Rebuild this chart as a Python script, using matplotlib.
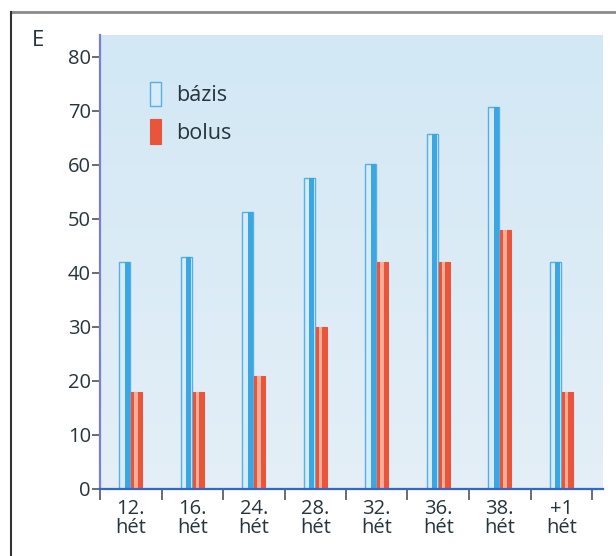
import matplotlib
matplotlib.use("Agg")
import matplotlib.pyplot as plt
import numpy as np
from matplotlib.lines import Line2D
from matplotlib.colors import LinearSegmentedColormap

categories = ["12.\nhét", "16.\nhét", "24.\nhét", "28.\nhét", "32.\nhét", "36.\nhét", "38.\nhét", "+1\nhét"]
bazis = [42, 43, 51.3, 57.5, 60.2, 65.8, 70.8, 42]
bolus = [18, 18, 21, 30, 42, 42, 48, 18]
yticks = [0, 10, 20, 30, 40, 50, 60, 70, 80]

plt.rcParams['font.family'] = ['Open Sans', 'DejaVu Sans']
txt = '#26353c'
fs = 14.5

fig = plt.figure(figsize=(6.16, 5.56), dpi=100)
ax = fig.add_axes([100/616, 1-489/556, 503/616, 454/556])

x = np.arange(len(categories))
w = 0.18
off = 0.095

# background gradient
grad = np.linspace(0, 1, 256).reshape(-1, 1)
cm = LinearSegmentedColormap.from_list('bg', ['#d2e8f5', '#e4eff7'])
ax.imshow(grad, extent=[0, 1, 0, 1], transform=ax.transAxes, cmap=cm, aspect='auto', zorder=0)

# bázis bars
b1 = ax.bar(x - off, bazis, width=w, color='#d6edf9', edgecolor='#5aaee2', linewidth=1.0, zorder=2, label='bázis')
ax.bar(x - off + w*0.22, bazis, width=w*0.45, color='#3aa6e2', linewidth=0, zorder=3)
# bolus bars
b2 = ax.bar(x + off, bolus, width=w, color='#e8553a', edgecolor='#e8553a', linewidth=0.8, zorder=2, label='bolus')
ax.bar(x + off - w*0.05, bolus, width=w*0.35, color='#f7ad96', linewidth=0, zorder=3)

ax.set_xlim(-0.5, -0.5 + 503/61.5)
ax.set_ylim(0, 454/5.4)

ax.set_yticks(yticks)
ax.set_yticklabels([str(v) for v in yticks], fontsize=fs, color=txt)
ax.tick_params(axis='y', length=6, width=1.2, color='#4a5560', pad=0.5)

ax.set_xticks(np.arange(len(categories) + 1) - 0.5)
ax.set_xticklabels([])
ax.tick_params(axis='x', which='major', length=8, width=1.2, color='#4a5560', direction='out')
ax.set_xticks(x, minor=True)
ax.set_xticklabels(categories, minor=True, fontsize=fs, color=txt, linespacing=0.92)
ax.tick_params(axis='x', which='minor', length=0, pad=7)

for s in ['top', 'right']:
    ax.spines[s].set_visible(False)
ax.spines['left'].set_color('#7b7fd2')
ax.spines['left'].set_linewidth(1.6)
ax.spines['bottom'].set_color('#3568c4')
ax.spines['bottom'].set_linewidth(1.6)
ax.spines['left'].set_zorder(5)
ax.spines['bottom'].set_zorder(5)

leg = ax.legend(handles=[b1, b2], loc='upper left', bbox_to_anchor=(0.06, 0.94),
                frameon=False, prop={'size': 15.5},
                handlelength=0.55, handleheight=1.4,
                handletextpad=0.7, labelspacing=0.6, labelcolor=txt)

fig.text(38/616, 1-40/556, 'E', fontsize=16, color=txt, ha='center', va='center')

# frame lines
fig.add_artist(Line2D([11/616, 1], [1-12/556, 1-12/556], color='#8a8a8a', lw=2))
fig.add_artist(Line2D([11/616, 11/616], [0, 1-12/556], color='#333333', lw=1.5))

fig.savefig('out.png', dpi=100)
